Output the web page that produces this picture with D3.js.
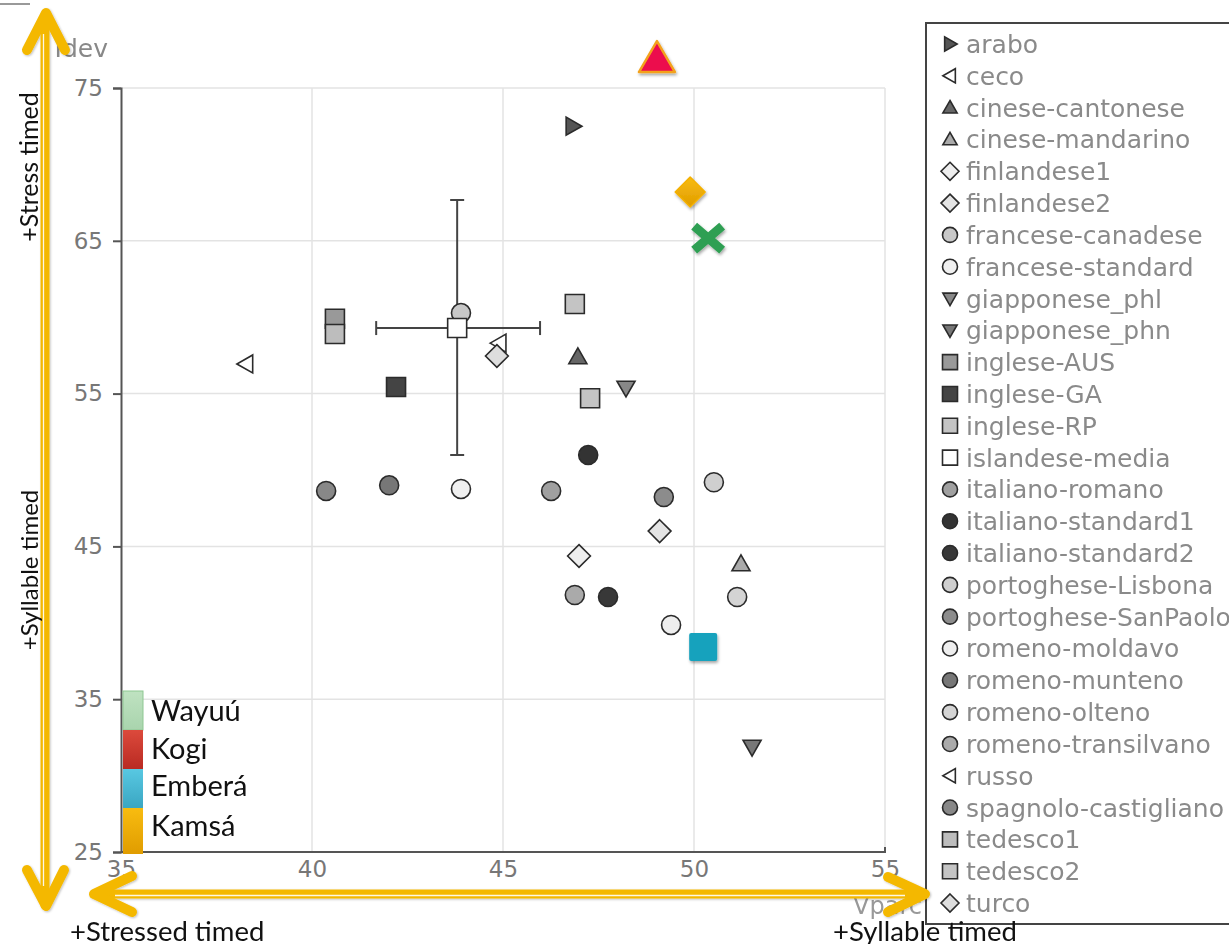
<!DOCTYPE html>
<html>
<head>
<meta charset="utf-8">
<script src="https://cdn.jsdelivr.net/npm/d3@7"></script>
<style>
  body { margin: 0; background: #fff; }
  svg { display: block; }
</style>
</head>
<body>
<div id="chart"></div>
<script>
// chart data

let seriesNames = ["arabo", "ceco", "cinese-cantonese", "cinese-mandarino", "finlandese1",
  "finlandese2", "francese-canadese", "francese-standard", "giapponese_phl", "giapponese_phn",
  "inglese-AUS", "inglese-GA", "inglese-RP", "islandese-media", "italiano-romano",
  "italiano-standard1", "italiano-standard2", "portoghese-Lisbona", "portoghese-SanPaolo",
  "romeno-moldavo", "romeno-munteno", "romeno-olteno", "romeno-transilvano", "russo",
  "spagnolo-castigliano", "tedesco1", "tedesco2", "turco"];

let vparc = [46.83, 38.27, 46.96, 51.23, 46.99, 49.1, 43.9, 43.9, 48.22, 51.52,
  40.6, 42.2, 46.88, 43.8, 46.26, 47.23, 47.75, 50.52, 49.21,
  49.4, 42.02, 51.13, 46.88, 44.9, 40.37, 40.6, 47.28, 44.84];

let idev = [72.5, 56.94, 57.4, 43.85, 44.37, 46.0, 60.27, 48.76, 55.37, 31.87,
  59.9, 55.43, 60.86, 59.29, 48.63, 50.98, 41.69, 49.2, 48.23,
  39.86, 49.0, 41.69, 41.82, 58.3, 48.63, 58.9, 54.7, 57.46];

// islandese-media spread
let errVparc = [41.68, 45.97];
let errIdev = [50.98, 67.67];

// added languages
let addedNames = ["Wayuú", "Kogi", "Emberá", "Kamsá"];
let addedVparc = [50.37, 49.03, 50.24, 49.9];
let addedIdev = [65.18, 76.7, 38.42, 68.19];

let xTicks = [35, 40, 45, 50, 55];
let yTicks = [25, 35, 45, 55, 65, 75];

// marker look per series
let markerStyle = {
  "arabo": ["right", "#555"],
  "ceco": ["left", "#fff"],
  "cinese-cantonese": ["up", "#666"],
  "cinese-mandarino": ["up", "#aaa"],
  "finlandese1": ["diamond", "#eee"],
  "finlandese2": ["diamond", "#e4e4e4"],
  "francese-canadese": ["circle", "#c8c8c8"],
  "francese-standard": ["circle", "#f0f0f0"],
  "giapponese_phl": ["down", "#888"],
  "giapponese_phn": ["down", "#777"],
  "inglese-AUS": ["square", "#999"],
  "inglese-GA": ["square", "#444"],
  "inglese-RP": ["square", "#c4c4c4"],
  "islandese-media": ["square", "#fff"],
  "italiano-romano": ["circle", "#a0a0a0"],
  "italiano-standard1": ["circle", "#333"],
  "italiano-standard2": ["circle", "#383838"],
  "portoghese-Lisbona": ["circle", "#cfcfcf"],
  "portoghese-SanPaolo": ["circle", "#8c8c8c"],
  "romeno-moldavo": ["circle", "#eee"],
  "romeno-munteno": ["circle", "#777"],
  "romeno-olteno": ["circle", "#d4d4d4"],
  "romeno-transilvano": ["circle", "#aaa"],
  "russo": ["left", "#fff"],
  "spagnolo-castigliano": ["circle", "#888"],
  "tedesco1": ["square", "#bdbdbd"],
  "tedesco2": ["square", "#c4c4c4"],
  "turco": ["diamond", "#ddd"]
};

let svgWidth = 1229;
let svgHeight = 944;

let margin = { top: 88, left: 121 };
let width = 764;
let height = 764;

let svg = d3.select("#chart")
  .append("svg")
  .attr("width", svgWidth)
  .attr("height", svgHeight);

let defs = svg.append("defs");
let shadow = defs.append("filter").attr("id", "shadow")
  .attr("x", "-50%").attr("y", "-50%").attr("width", "200%").attr("height", "200%");
shadow.append("feDropShadow").attr("dx", 1).attr("dy", 2).attr("stdDeviation", 1.6)
  .attr("flood-color", "#000").attr("flood-opacity", 0.35);

let arrowShadow = defs.append("filter").attr("id", "arrowShadow")
  .attr("x", "-20%").attr("y", "-20%").attr("width", "140%").attr("height", "140%");
arrowShadow.append("feDropShadow").attr("dx", 1).attr("dy", 1).attr("stdDeviation", 1.2)
  .attr("flood-color", "#000").attr("flood-opacity", 0.25);

function gradient(id, top, bottom) {
  let g = defs.append("linearGradient").attr("id", id)
    .attr("x1", 0).attr("y1", 0).attr("x2", 0).attr("y2", 1);
  g.append("stop").attr("offset", "0%").attr("stop-color", top);
  g.append("stop").attr("offset", "100%").attr("stop-color", bottom);
}
gradient("gWayuu", "#bfe2c1", "#a9d4ad");
gradient("gKogi", "#dc4a3c", "#b92a22");
gradient("gEmbera", "#58c8e2", "#3aa6c2");
gradient("gKamsa", "#f8bc10", "#e09c00");

let chartGroup = svg.append("g")
  .attr("transform", `translate(${margin.left}, ${margin.top})`);

let xScale = d3.scaleLinear().domain([35, 55]).range([0, width]);
let yScale = d3.scaleLinear().domain([25, 75]).range([height, 0]);

// grid
chartGroup.append("g").selectAll("line").data(xTicks.slice(1)).enter()
  .append("line")
  .attr("x1", d => xScale(d)).attr("x2", d => xScale(d))
  .attr("y1", 0).attr("y2", height)
  .attr("stroke", "#e3e3e3").attr("stroke-width", 1.5);
chartGroup.append("g").selectAll("line").data(yTicks.slice(1)).enter()
  .append("line")
  .attr("x1", 0).attr("x2", width)
  .attr("y1", d => yScale(d)).attr("y2", d => yScale(d))
  .attr("stroke", "#e3e3e3").attr("stroke-width", 1.5);

// axes
let bottomAxis = d3.axisBottom(xScale).tickValues(xTicks).tickSize(0).tickPadding(9);
let leftAxis = d3.axisLeft(yScale).tickValues(yTicks).tickSize(8).tickPadding(10);

let xAxisG = chartGroup.append("g")
  .attr("transform", `translate(0, ${height})`)
  .call(bottomAxis);
let yAxisG = chartGroup.append("g").call(leftAxis);

[xAxisG, yAxisG].forEach(g => {
  g.select(".domain").attr("stroke", "#555").attr("stroke-width", 2);
  g.selectAll(".tick line").attr("stroke", "#555").attr("stroke-width", 2);
  g.selectAll("text")
    .style("font-family", "'DejaVu Sans', sans-serif")
    .style("font-size", "23px")
    .attr("fill", "#777");
});
yAxisG.selectAll(".tick line").attr("x1", 0);
xAxisG.select(".domain").attr("d", `M0,0H${width}V-5`);

// axis titles
svg.append("text")
  .attr("x", 108).attr("y", 57)
  .attr("text-anchor", "end")
  .style("font-family", "'DejaVu Sans', sans-serif")
  .style("font-size", "25px")
  .attr("fill", "#888")
  .text("Idev");
svg.append("text")
  .attr("x", 922).attr("y", 914)
  .attr("text-anchor", "end")
  .style("font-family", "'DejaVu Sans', sans-serif")
  .style("font-size", "24px")
  .attr("fill", "#999")
  .text("Vparc");

// marker paths
function markerPath(shape, s) {
  let h = s / 2;
  if (shape === "circle") return d3.symbol(d3.symbolCircle, Math.PI * h * h)();
  if (shape === "square") return `M${-h},${-h}H${h}V${h}H${-h}Z`;
  if (shape === "diamond") { let r = h * 1.2; return `M0,${-r}L${r},0L0,${r}L${-r},0Z`; }
  let t = h * 0.95;
  if (shape === "up") return `M0,${-t}L${t},${t * 0.75}L${-t},${t * 0.75}Z`;
  if (shape === "down") return `M0,${t}L${t},${-t * 0.75}L${-t},${-t * 0.75}Z`;
  if (shape === "right") return `M${t},0L${-t * 0.75},${t}L${-t * 0.75},${-t}Z`;
  if (shape === "left") return `M${-t},0L${t * 0.75},${t}L${t * 0.75},${-t}Z`;
}

let points = seriesNames.map((n, i) => ({ name: n, x: vparc[i], y: idev[i] }));

// error bars of islandese-media
let isl = points.find(p => p.name === "islandese-media");
let errG = chartGroup.append("g").attr("stroke", "#444").attr("stroke-width", 2);
errG.append("line")
  .attr("x1", xScale(errVparc[0])).attr("x2", xScale(errVparc[1]))
  .attr("y1", yScale(isl.y)).attr("y2", yScale(isl.y));
errG.append("line")
  .attr("x1", xScale(isl.x)).attr("x2", xScale(isl.x))
  .attr("y1", yScale(errIdev[0])).attr("y2", yScale(errIdev[1]));
errVparc.forEach(v => errG.append("line")
  .attr("x1", xScale(v)).attr("x2", xScale(v))
  .attr("y1", yScale(isl.y) - 7).attr("y2", yScale(isl.y) + 7));
errIdev.forEach(v => errG.append("line")
  .attr("x1", xScale(isl.x) - 7).attr("x2", xScale(isl.x) + 7)
  .attr("y1", yScale(v)).attr("y2", yScale(v)));

// language points
chartGroup.append("g").selectAll("path").data(points).enter()
  .append("path")
  .attr("transform", d => `translate(${xScale(d.x)}, ${yScale(d.y)})`)
  .attr("d", d => markerPath(markerStyle[d.name][0], 19))
  .attr("fill", d => markerStyle[d.name][1])
  .attr("stroke", "#2b2b2b")
  .attr("stroke-width", 1.6);

// added language markers
let added = addedNames.map((n, i) => ({ name: n, x: addedVparc[i], y: addedIdev[i] }));
let addedG = chartGroup.append("g").attr("filter", "url(#shadow)");
added.forEach(d => {
  let g = addedG.append("g")
    .attr("transform", `translate(${xScale(d.x)}, ${yScale(d.y)})`);
  if (d.name === "Wayuú") {
    g.append("path").attr("d", "M-14,-12L14,12M-14,12L14,-12")
      .attr("stroke", "#2f9f52").attr("stroke-width", 9).attr("fill", "none");
  } else if (d.name === "Kogi") {
    g.append("path").attr("d", "M0,-21L18,10L-18,10Z")
      .attr("fill", "#ec0a4e").attr("stroke", "#f3a21f").attr("stroke-width", 2.5)
      .attr("stroke-linejoin", "round");
  } else if (d.name === "Emberá") {
    g.append("rect").attr("x", -14).attr("y", -14).attr("width", 28).attr("height", 28)
      .attr("rx", 2).attr("fill", "#17a2bd");
  } else {
    g.append("path").attr("d", "M0,-15L15,0L0,15L-15,0Z")
      .attr("fill", "url(#gKamsa)").attr("stroke", "#f4b000").attr("stroke-width", 1.5)
      .attr("stroke-linejoin", "round");
  }
});

// colour key, bottom left of the plot
let keyFills = ["url(#gWayuu)", "url(#gKogi)", "url(#gEmbera)", "url(#gKamsa)"];
let keyTops = [691, 730, 769, 808];
let keyBottoms = [730, 769, 808, 854];
let keyBase = [721, 759, 796, 836];
addedNames.forEach((n, i) => {
  svg.append("rect")
    .attr("x", 123).attr("y", keyTops[i])
    .attr("width", 20).attr("height", keyBottoms[i] - keyTops[i])
    .attr("fill", keyFills[i])
    .attr("stroke", i === 0 ? "#8ec792" : "none").attr("stroke-width", 1);
  svg.append("text")
    .attr("x", 151).attr("y", keyBase[i])
    .style("font-family", "Lato, 'Open Sans', sans-serif")
    .style("font-size", "29px")
    .attr("fill", "#111")
    .text(n);
});

// legend box on the right
let legend = svg.append("g");
legend.append("rect")
  .attr("x", 926).attr("y", 23).attr("width", 320).attr("height", 901)
  .attr("fill", "#fff").attr("stroke", "#444").attr("stroke-width", 2);
let legendY = d3.scalePoint().domain(seriesNames).range([44, 903]);
let rows = legend.selectAll("g.row").data(seriesNames).enter()
  .append("g")
  .attr("transform", d => `translate(950, ${legendY(d)})`);
rows.append("path")
  .attr("d", d => markerPath(markerStyle[d][0], 15))
  .attr("fill", d => markerStyle[d][1])
  .attr("stroke", "#2b2b2b")
  .attr("stroke-width", 1.6);
rows.append("text")
  .attr("x", 16).attr("dy", "0.36em")
  .style("font-family", "'DejaVu Sans', sans-serif")
  .style("font-size", "25px")
  .attr("fill", "#8a8a8a")
  .text(d => d);

// orientation arrows
let yellow = "#f4b800";
let arrows = svg.append("g").attr("filter", "url(#arrowShadow)")
  .attr("stroke", yellow).attr("fill", "none")
  .attr("stroke-linecap", "round").attr("stroke-linejoin", "round");
arrows.append("line").attr("x1", 45).attr("x2", 45).attr("y1", 16).attr("y2", 905)
  .attr("stroke-width", 9);
arrows.append("path").attr("d", "M27,50L46,13L65,50").attr("stroke-width", 10);
arrows.append("path").attr("d", "M27,870L46,906L64,870").attr("stroke-width", 10);
arrows.append("line").attr("x1", 96).attr("x2", 923).attr("y1", 894).attr("y2", 894)
  .attr("stroke-width", 9);
arrows.append("path").attr("d", "M132,876L94,894L132,912").attr("stroke-width", 10);
arrows.append("path").attr("d", "M888,877L925,894L888,912").attr("stroke-width", 10);
svg.append("line").attr("x1", 43.5).attr("x2", 43.5).attr("y1", 34).attr("y2", 886)
  .attr("stroke", "#fff").attr("stroke-width", 1.3).attr("opacity", 0.9);
svg.append("line").attr("x1", 115).attr("x2", 905).attr("y1", 895.5).attr("y2", 895.5)
  .attr("stroke", "#fff").attr("stroke-width", 1.3).attr("opacity", 0.9);

// arrow captions
let captionFont = "Lato, 'Open Sans', sans-serif";
svg.append("text")
  .attr("transform", "translate(38, 167) rotate(-90)")
  .attr("text-anchor", "middle")
  .style("font-family", captionFont).style("font-size", "25px").attr("fill", "#111")
  .text("+Stress timed");
svg.append("text")
  .attr("transform", "translate(38, 570) rotate(-90)")
  .attr("text-anchor", "middle")
  .style("font-family", captionFont).style("font-size", "24px").attr("fill", "#111")
  .text("+Syllable timed");
svg.append("text")
  .attr("x", 70).attr("y", 941)
  .style("font-family", captionFont).style("font-size", "27.5px").attr("fill", "#111")
  .text("+Stressed timed");
svg.append("text")
  .attr("x", 833).attr("y", 941)
  .style("font-family", captionFont).style("font-size", "27.5px").attr("fill", "#111")
  .text("+Syllable timed");

// small grey mark at the top left corner
svg.append("line").attr("x1", 0).attr("x2", 30).attr("y1", 4).attr("y2", 4)
  .attr("stroke", "#999").attr("stroke-width", 2);
</script>
</body>
</html>
